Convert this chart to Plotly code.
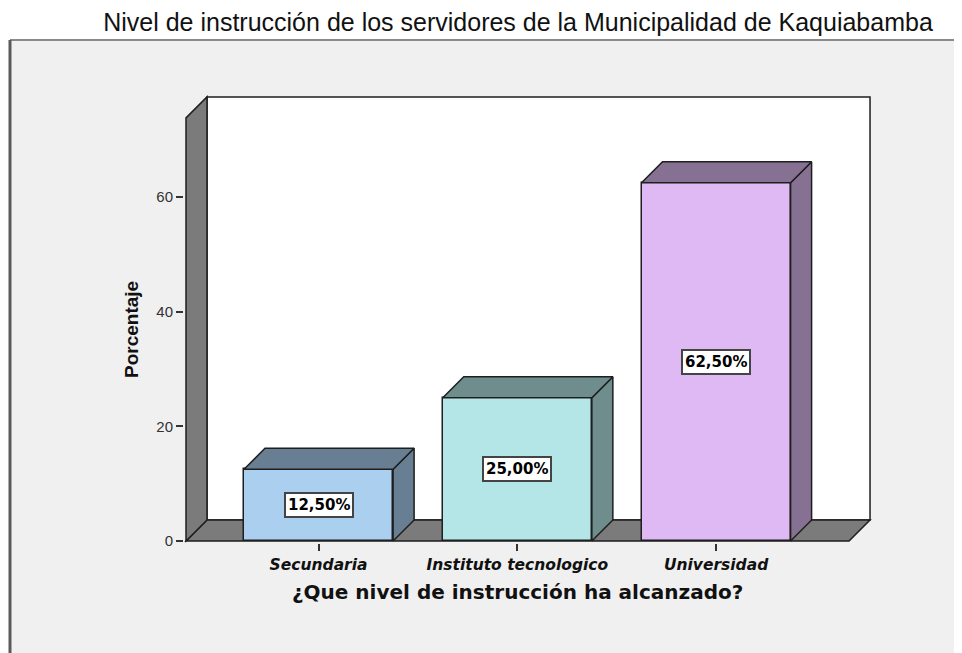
import plotly.graph_objects as go

# ---- data ----
categories = ["Secundaria", "Instituto tecnologico", "Universidad"]
percentages = [12.5, 25.0, 62.5]
y_ticks = [0, 20, 40, 60]
title_text = "Nivel de instrucción de los servidores de la Municipalidad de Kaquiabamba"
x_title = "¿Que nivel de instrucción ha alcanzado?"
y_title = "Porcentaje"

# ---- styling ----
front_colors = ["#abcfef", "#b4e6e8", "#dfb9f3"]
shade_colors = ["#687f93", "#6f8d8d", "#877193"]
wall_color = "#7b7b7b"
panel_color = "#f0f0f0"
edge = "#1e1e1e"

BODY = 8  # default page margin of the browser body
W, H = 962 - BODY, 653 - BODY
# plot area in window pixels (slightly larger than the walls so edge lines are not clipped)
PLOT_LEFT, PLOT_TOP, PLOT_RIGHT, PLOT_BOTTOM = 184, 94, 873, 543
FRONT_X0_PX, FRONT_Y0_PX = 186, 541  # pixel of the front-left-bottom corner
plot_w = PLOT_RIGHT - PLOT_LEFT
plot_h = PLOT_BOTTOM - PLOT_TOP
L = PLOT_LEFT - BODY
T = PLOT_TOP - BODY
R = W - L - plot_w
B = H - T - plot_h

bar_w = 0.75
x_front_min, x_front_max = -0.667, 2.669
x_px_per_unit = 198.75
y_px_per_unit = 5.733
depth_px = 21
dx = depth_px / x_px_per_unit
dy = depth_px / y_px_per_unit
y_front_max = 73.8
x_range = [x_front_min - (FRONT_X0_PX - PLOT_LEFT) / x_px_per_unit,
           x_front_min + (PLOT_RIGHT - FRONT_X0_PX) / x_px_per_unit]
y_range = [-(PLOT_BOTTOM - FRONT_Y0_PX) / y_px_per_unit,
           (FRONT_Y0_PX - PLOT_TOP) / y_px_per_unit]

xs = list(range(len(categories)))

fig = go.Figure()

# side and top faces (depth) of each bar
for i, v in enumerate(percentages):
    xl, xr = xs[i] - bar_w / 2, xs[i] + bar_w / 2
    fig.add_trace(go.Scatter(
        x=[xr, xr + dx, xr + dx, xr, xr], y=[0, dy, v + dy, v, 0],
        fill="toself", fillcolor=shade_colors[i], mode="lines",
        line=dict(color=edge, width=1.5), hoverinfo="skip", showlegend=False))
    fig.add_trace(go.Scatter(
        x=[xl, xr, xr + dx, xl + dx, xl], y=[v, v, v + dy, v + dy, v],
        fill="toself", fillcolor=shade_colors[i], mode="lines",
        line=dict(color=edge, width=1.5), hoverinfo="skip", showlegend=False))

# front faces
fig.add_trace(go.Bar(
    x=xs, y=percentages, width=bar_w,
    marker=dict(color=front_colors, line=dict(color=edge, width=1.5)),
    hoverinfo="skip", showlegend=False))


def poly(pts):
    return "M " + " L ".join(f"{a},{b}" for a, b in pts) + " Z"


def px_x(p):
    return (p - PLOT_LEFT) / plot_w


def px_y(p):
    return 1 - (p - PLOT_TOP) / plot_h


shapes = []
# outer chart panel
shapes.append(dict(type="rect", xref="paper", yref="paper", layer="below",
                   x0=px_x(10), x1=px_x(980), y0=px_y(680), y1=px_y(40),
                   fillcolor=panel_color, line=dict(width=0)))
shapes.append(dict(type="line", xref="paper", yref="paper", layer="below",
                   x0=px_x(10), x1=px_x(980), y0=px_y(40), y1=px_y(40),
                   line=dict(color="#8a8a8a", width=2)))
shapes.append(dict(type="line", xref="paper", yref="paper", layer="below",
                   x0=px_x(10), x1=px_x(10), y0=px_y(40), y1=px_y(680),
                   line=dict(color="#5a5a5a", width=3)))
# back wall
shapes.append(dict(type="path", xref="x", yref="y", layer="below",
                   path=poly([(x_front_min + dx, dy), (x_front_max + dx, dy),
                              (x_front_max + dx, y_front_max + dy), (x_front_min + dx, y_front_max + dy)]),
                   fillcolor="white", line=dict(color=edge, width=1.5)))
# floor
shapes.append(dict(type="path", xref="x", yref="y", layer="below",
                   path=poly([(x_front_min, 0), (x_front_max, 0),
                              (x_front_max + dx, dy), (x_front_min + dx, dy)]),
                   fillcolor=wall_color, line=dict(color=edge, width=1.5)))
# left wall
shapes.append(dict(type="path", xref="x", yref="y", layer="below",
                   path=poly([(x_front_min, 0), (x_front_min + dx, dy),
                              (x_front_min + dx, y_front_max + dy), (x_front_min, y_front_max)]),
                   fillcolor=wall_color, line=dict(color=edge, width=1.5)))

annotations = []
for i, v in enumerate(percentages):
    annotations.append(dict(
        x=xs[i], y=v / 2, xref="x", yref="y", showarrow=False,
        text=f"{v:.2f}".replace(".", ",") + "%",
        font=dict(family="DejaVu Sans", size=15, color="black", weight="bold"),
        bgcolor="white", bordercolor="#444444", borderwidth=2, borderpad=2))

# axis titles
annotations.append(dict(
    text=x_title, xref="paper", yref="paper", x=px_x(517), y=px_y(592),
    xanchor="center", yanchor="middle", showarrow=False,
    font=dict(family="DejaVu Sans", size=20, color="#111111", weight="bold")))
annotations.append(dict(
    text=y_title, xref="paper", yref="paper", x=px_x(131), y=px_y(330),
    xanchor="center", yanchor="middle", showarrow=False, textangle=-90,
    font=dict(family="Liberation Sans, Arial", size=19, color="#111111", weight="bold")))

fig.update_layout(
    width=W, height=H,
    margin=dict(l=L, r=R, t=T, b=B),
    paper_bgcolor="white", plot_bgcolor=panel_color,
    shapes=shapes, annotations=annotations,
    bargap=0,
    title=dict(text=title_text, x=px_x(518), xref="paper", xanchor="center",
               y=1 - (22 - BODY) / H, yanchor="middle",
               font=dict(family="Liberation Sans, Arial", size=25, color="#111111")),
    xaxis=dict(range=x_range, tickmode="array", tickvals=xs, ticktext=categories,
               ticks="outside", ticklen=7, tickcolor="#333333", tickwidth=1.5,
               showgrid=False, zeroline=False, showline=False,
               tickfont=dict(family="DejaVu Sans", size=15.5, color="#111111", weight="bold", style="italic")),
    yaxis=dict(range=y_range, tickmode="array", tickvals=y_ticks,
               ticks="outside", ticklen=7, tickcolor="#333333", tickwidth=1.5,
               showgrid=False, zeroline=False, showline=False,
               tickfont=dict(family="Liberation Sans, Arial", size=15, color="#333333")),
)

fig.write_html("out.html")
